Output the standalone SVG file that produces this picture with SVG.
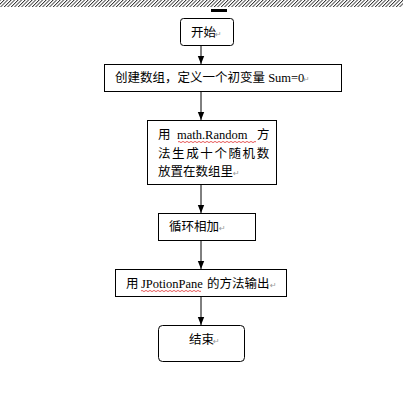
<svg xmlns="http://www.w3.org/2000/svg" width="403" height="418" viewBox="0 0 403 418">
<defs>
<pattern id="hatch" width="3.5" height="7" patternUnits="userSpaceOnUse" patternTransform="skewX(-45)">
<rect x="0" y="0" width="1.2" height="7" fill="#333"/>
</pattern>
<marker id="arr" markerUnits="userSpaceOnUse" markerWidth="8" markerHeight="8" viewBox="0 0 8 8" refX="8" refY="4" orient="auto">
<path d="M0,0.8 L8,4 L0,7.2 Z" fill="#000"/>
</marker>
</defs>
<style>
.box{fill:#fff;stroke:#000;stroke-width:1}
.t{font-family:"Liberation Serif","Noto Sans CJK SC",serif;font-size:12.5px;fill:#000}
.p{font-family:"DejaVu Sans",sans-serif;font-size:8px;fill:#999}
.wave{fill:none;stroke:#e03030;stroke-width:0.8}
.c{stroke:#000;stroke-width:1;fill:none}
</style>
<rect x="0" y="0" width="403" height="418" fill="#fff"/>
<rect x="0" y="0" width="403" height="7" fill="url(#hatch)"/>
<rect x="211" y="9" width="16" height="3" fill="#000"/>

<g id="connectors">
<line class="c" x1="201" y1="46" x2="201" y2="64" marker-end="url(#arr)"/>
<line class="c" x1="201" y1="92" x2="201" y2="120" marker-end="url(#arr)"/>
<line class="c" x1="201" y1="185" x2="201" y2="213" marker-end="url(#arr)"/>
<line class="c" x1="201" y1="241" x2="201" y2="269" marker-end="url(#arr)"/>
<line class="c" x1="201" y1="297" x2="201" y2="325" marker-end="url(#arr)"/>
</g>

<g id="start">
<rect class="box" x="180.5" y="18.5" width="53" height="27" rx="3"/>
<text class="t" x="191" y="37">开始</text><text class="p" x="215" y="37">↵</text>
</g>

<g id="init">
<rect class="box" x="104.5" y="64.5" width="237" height="27"/>
<text class="t" x="115" y="82">创建数组，定义一个初变量 Sum=0</text><text class="p" x="303" y="82">↵</text>
</g>

<g id="random">
<rect class="box" x="147.5" y="120.5" width="129" height="64"/>
<text class="t" x="158" y="139">用</text>
<text class="t" x="177" y="139">math.Random</text>
<text class="t" x="257" y="139">方</text>
<path class="wave" d="M178,142 q1,-1.2 2,0 t2,0 t2,0 t2,0 t2,0 t2,0 t2,0 t2,0 t2,0 t2,0 t2,0 t2,0 t2,0 t2,0 t2,0 t2,0 t2,0 t2,0 t2,0 t2,0 t2,0 t2,0 t2,0 t2,0 t2,0 t2,0 t2,0 t2,0 t2,0 t2,0 t2,0 t2,0 t2,0 t2,0 t2,0 t2,0 t2,0 t2,0 t2,0"/>
<text class="t" x="158" y="158" letter-spacing="1.6">法生成十个随机数</text>
<text class="t" x="158" y="176">放置在数组里</text><text class="p" x="233" y="176">↵</text>
</g>

<g id="sum">
<rect class="box" x="158.5" y="213.5" width="97" height="27"/>
<text class="t" x="169" y="231">循环相加</text><text class="p" x="219" y="231">↵</text>
</g>

<g id="output">
<rect class="box" x="115.5" y="269.5" width="171" height="27"/>
<text class="t" x="126" y="288">用</text>
<text class="t" x="141" y="288">JPotionPane</text>
<text class="t" x="207" y="288">的方法输出</text><text class="p" x="270" y="288">↵</text>
<path class="wave" d="M141,291 q1,-1.2 2,0 t2,0 t2,0 t2,0 t2,0 t2,0 t2,0 t2,0 t2,0 t2,0 t2,0 t2,0 t2,0 t2,0 t2,0 t2,0 t2,0 t2,0 t2,0 t2,0 t2,0 t2,0 t2,0 t2,0 t2,0 t2,0 t2,0 t2,0 t2,0 t2,0"/>
</g>

<g id="end">
<rect class="box" x="158.5" y="325.5" width="86" height="36" rx="4"/>
<text class="t" x="189" y="344">结束</text><text class="p" x="213" y="344">↵</text>
</g>
</svg>
